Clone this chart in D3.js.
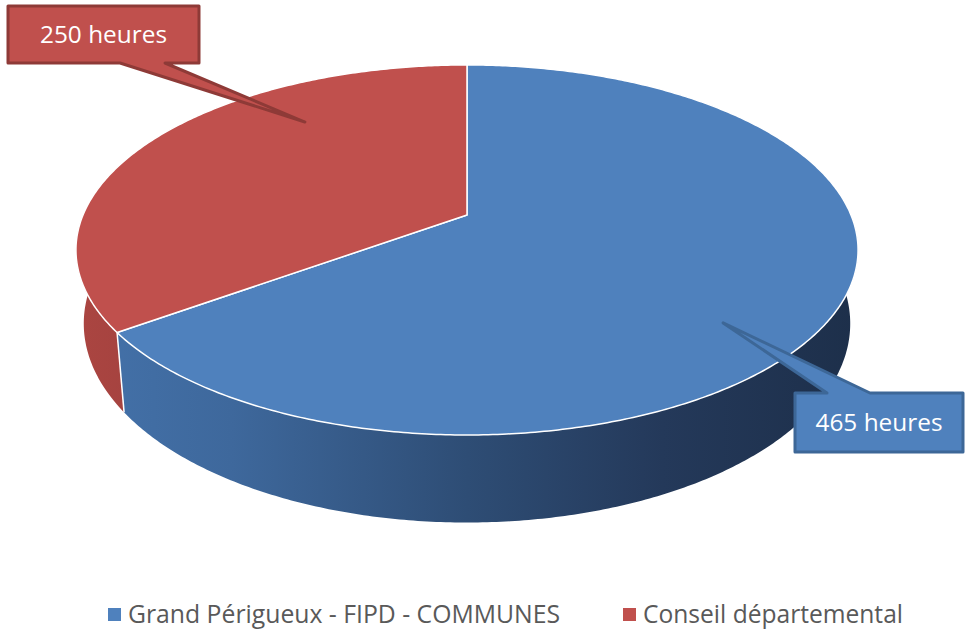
<!DOCTYPE html>
<html>
<head>
<meta charset="utf-8">
<script src="https://cdn.jsdelivr.net/npm/d3@7"></script>
<style>
  body { margin: 0; background: #fff; }
  text { font-family: "Open Sans", sans-serif; }
</style>
</head>
<body>
<div id="chart"></div>
<script>
// data
var labels = ["Grand Périgueux - FIPD - COMMUNES", "Conseil départemental"];
var values = [465, 250];
var callouts = ["465 heures", "250 heures"];
var topColors = ["#4f81bd", "#c0504d"];
var borderColors = ["#3d6797", "#8e3a37"];

var width = 965, height = 630;

// fake perspective of the disc
var cx = 467, cy = 215, f = 384, g = 178.4, k = 0.189, depth = 71, shrink = 0.98;

function proj(a, r, level) {
    var u = r * Math.sin(a), v = r * Math.cos(a), w = 1 + k * v;
    var s = 1 - level * (1 - shrink);
    return [cx + s * f * u / w, cy - g * v / w + level * depth / w];
}

function arcPoints(a0, a1, level) {
    var n = Math.max(2, Math.ceil(Math.abs(a1 - a0) / 0.01));
    var pts = [];
    for (var i = 0; i <= n; i++) {
        pts.push(proj(a0 + (a1 - a0) * i / n, 1, level));
    }
    return pts;
}

var svg = d3.select("#chart").append("svg")
    .attr("width", width)
    .attr("height", height);

var defs = svg.append("defs");

// side gradients
var sideStops = [
    [["0", "#4472aa"], ["0.2", "#3e689c"], ["0.5", "#2e4d75"], ["0.75", "#24395a"], ["1", "#1d2f4a"]],
    [["0", "#ab4541"], ["0.1", "#a3423f"], ["1", "#6e2b29"]]
];
sideStops.forEach(function (stops, i) {
    var grad = defs.append("linearGradient")
        .attr("id", "side" + i)
        .attr("gradientUnits", "userSpaceOnUse")
        .attr("x1", cx - f * 1.02).attr("x2", cx + f * 1.02)
        .attr("y1", 0).attr("y2", 0);
    stops.forEach(function (s) {
        grad.append("stop").attr("offset", s[0]).attr("stop-color", s[1]);
    });
});

var pie = d3.pie().sort(null).startAngle(0).endAngle(2 * Math.PI);
var arcs = pie(values);

var line = d3.line();

// sides (front half only)
arcs.forEach(function (d, i) {
    var a0 = Math.max(d.startAngle, Math.PI / 2);
    var a1 = Math.min(d.endAngle, 3 * Math.PI / 2);
    if (a1 <= a0) return;
    var pts = arcPoints(a0, a1, 0).concat(arcPoints(a1, a0, 1));
    svg.append("path")
        .attr("d", line(pts) + "Z")
        .attr("fill", "url(#side" + i + ")");
});

// vertical edge where the slices meet on the front
arcs.forEach(function (d) {
    var a = d.endAngle;
    if (a > Math.PI / 2 && a < 3 * Math.PI / 2) {
        svg.append("path")
            .attr("d", line([proj(a, 1, 0), proj(a, 1, 1)]))
            .attr("stroke", "#fff")
            .attr("stroke-width", 1.5);
    }
});

// top faces
arcs.forEach(function (d, i) {
    var pts = [proj(0, 0, 0)].concat(arcPoints(d.startAngle, d.endAngle, 0));
    svg.append("path")
        .attr("d", line(pts) + "Z")
        .attr("fill", topColors[i])
        .attr("stroke", "#fff")
        .attr("stroke-width", 1.5)
        .attr("stroke-linejoin", "round");
});

// callout boxes: [box x, y, w, h, pointer base x0, x1, side, tip angle, tip radius]
var calloutBoxes = [
    [795, 393, 168, 59, 827, 870, "top", 132.2, 0.808],
    [8, 6, 191, 57, 120, 165, "bottom", 321, 0.744]
];

calloutBoxes.forEach(function (c, i) {
    var x = c[0], y = c[1], w = c[2], h = c[3];
    var tip = proj(c[7] * Math.PI / 180, c[8], 0);
    var p;
    if (c[6] == "top") {
        p = [[x, y], [c[4], y], tip, [c[5], y], [x + w, y], [x + w, y + h], [x, y + h]];
    } else {
        p = [[x, y], [x + w, y], [x + w, y + h], [c[5], y + h], tip, [c[4], y + h], [x, y + h]];
    }
    svg.append("path")
        .attr("d", line(p) + "Z")
        .attr("fill", topColors[i])
        .attr("stroke", borderColors[i])
        .attr("stroke-width", 3)
        .attr("stroke-linejoin", "round");
    svg.append("text")
        .attr("x", x + w / 2)
        .attr("y", y + h / 2 + 8)
        .attr("text-anchor", "middle")
        .attr("fill", "#fff")
        .attr("font-size", 24)
        .attr("textLength", 127)
        .attr("lengthAdjust", "spacingAndGlyphs")
        .text(callouts[i]);
});

// legend
var legendX = [108, 623];
var legendW = [432, 260];
var legend = svg.append("g");
labels.forEach(function (name, i) {
    legend.append("rect")
        .attr("x", legendX[i])
        .attr("y", 608)
        .attr("width", 13)
        .attr("height", 13)
        .attr("fill", topColors[i]);
    legend.append("text")
        .attr("x", legendX[i] + 20)
        .attr("y", 623)
        .attr("fill", "#595959")
        .attr("font-size", 25)
        .attr("textLength", legendW[i])
        .attr("lengthAdjust", "spacingAndGlyphs")
        .text(name);
});
</script>
</body>
</html>
